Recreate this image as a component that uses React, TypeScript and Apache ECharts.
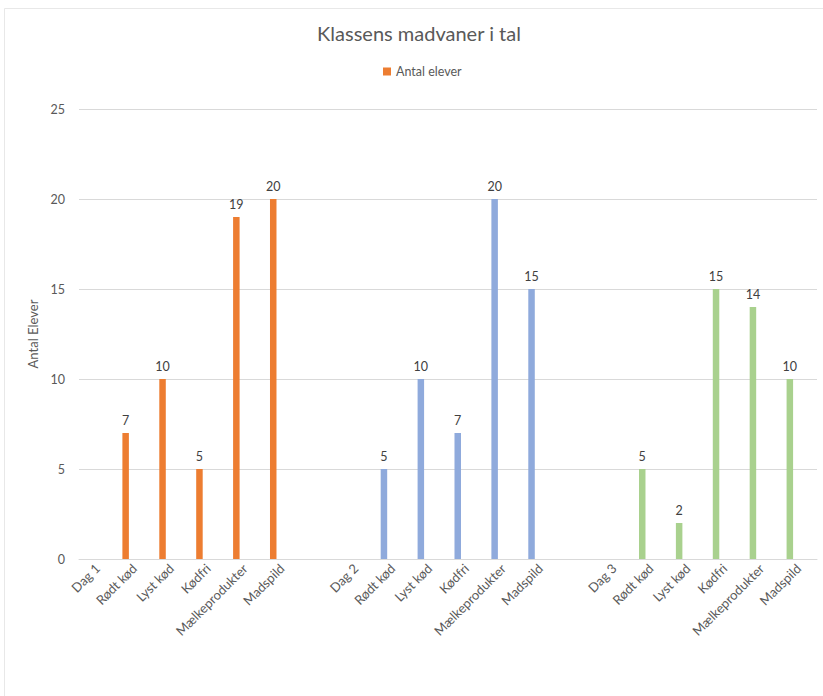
import React, { useEffect, useRef } from "react";
import * as echarts from "echarts";

const categories = [
  "Dag 1", "Rødt kød", "Lyst kød", "Kødfri", "Mælkeprodukter", "Madspild", "",
  "Dag 2", "Rødt kød", "Lyst kød", "Kødfri", "Mælkeprodukter", "Madspild", "",
  "Dag 3", "Rødt kød", "Lyst kød", "Kødfri", "Mælkeprodukter", "Madspild",
];
const dag1Values = [null, 7, 10, 5, 19, 20];
const dag2Values = [null, 5, 10, 7, 20, 15];
const dag3Values = [null, 5, 2, 15, 14, 10];
const yTicks = [0, 5, 10, 15, 20, 25];

const groupColors = ["#ED7D31", "#8FAADC", "#A9D18E"];

export default function App() {
  const ref = useRef<HTMLDivElement>(null);
  useEffect(() => {
    if (!ref.current) return;
    const chart = echarts.init(ref.current, null, { renderer: "svg" });
    const font = "Lato";
    const groups = [dag1Values, dag2Values, dag3Values];
    const data: any[] = [];
    groups.forEach((g, gi) => {
      g.forEach((v) => {
        data.push({ value: v, itemStyle: { color: groupColors[gi] } });
      });
      if (gi < groups.length - 1) data.push({ value: null });
    });
    chart.setOption({
      animation: false,
      backgroundColor: "#ffffff",
      textStyle: { fontFamily: font },
      title: {
        text: "Klassens madvaner i tal",
        left: 414,
        top: 18,
        textAlign: "center",
        textStyle: { fontSize: 20, fontWeight: "normal", color: "#595959", fontFamily: font },
      },
      legend: {
        data: ["Antal elever"],
        left: 378,
        top: 60,
        itemWidth: 8,
        itemHeight: 8,
        itemGap: 6,
        icon: "rect",
        textStyle: { fontSize: 12.5, color: "#595959", fontFamily: font },
      },
      graphic: [
        {
          type: "rect",
          shape: { x: 4.5, y: 8.5, width: 840, height: 720 },
          style: { fill: "none", stroke: "#E8E8E8", lineWidth: 1 },
          silent: true,
        },
      ],
      grid: { left: 79, right: 6, top: 109, bottom: 137, containLabel: false },
      xAxis: {
        type: "category",
        data: categories,
        axisLine: { show: true, lineStyle: { color: "#D9D9D9", width: 1 } },
        axisTick: { show: false },
        axisLabel: {
          interval: 0,
          rotate: 45,
          fontSize: 13,
          color: "#595959",
          margin: 7,
          fontFamily: font,
        },
      },
      yAxis: {
        type: "value",
        min: yTicks[0],
        max: yTicks[yTicks.length - 1],
        interval: 5,
        name: "Antal Elever",
        nameLocation: "middle",
        nameRotate: 90,
        nameGap: 34,
        nameTextStyle: { fontSize: 13, color: "#595959", fontFamily: font },
        axisLine: { show: false },
        axisTick: { show: false },
        axisLabel: { fontSize: 12.5, color: "#595959", margin: 14, fontFamily: font },
        splitLine: { lineStyle: { color: "#D9D9D9", width: 1 } },
      },
      series: [
        {
          name: "Antal elever",
          type: "bar",
          data,
          barWidth: 6.5,
          barGap: "168%",
          itemStyle: { color: groupColors[0] },
          label: {
            show: true,
            position: "top",
            distance: 6,
            fontSize: 12.5,
            color: "#404040",
            fontFamily: font,
          },
        },
        {
          name: "spacer",
          type: "bar",
          data: categories.map(() => null),
          barWidth: 6.5,
          silent: true,
        },
      ],
    });
    return () => chart.dispose();
  }, []);
  return (
    <div
      ref={ref}
      style={{ position: "absolute", left: 0, top: 0, width: 823, height: 696 }}
    />
  );
}
